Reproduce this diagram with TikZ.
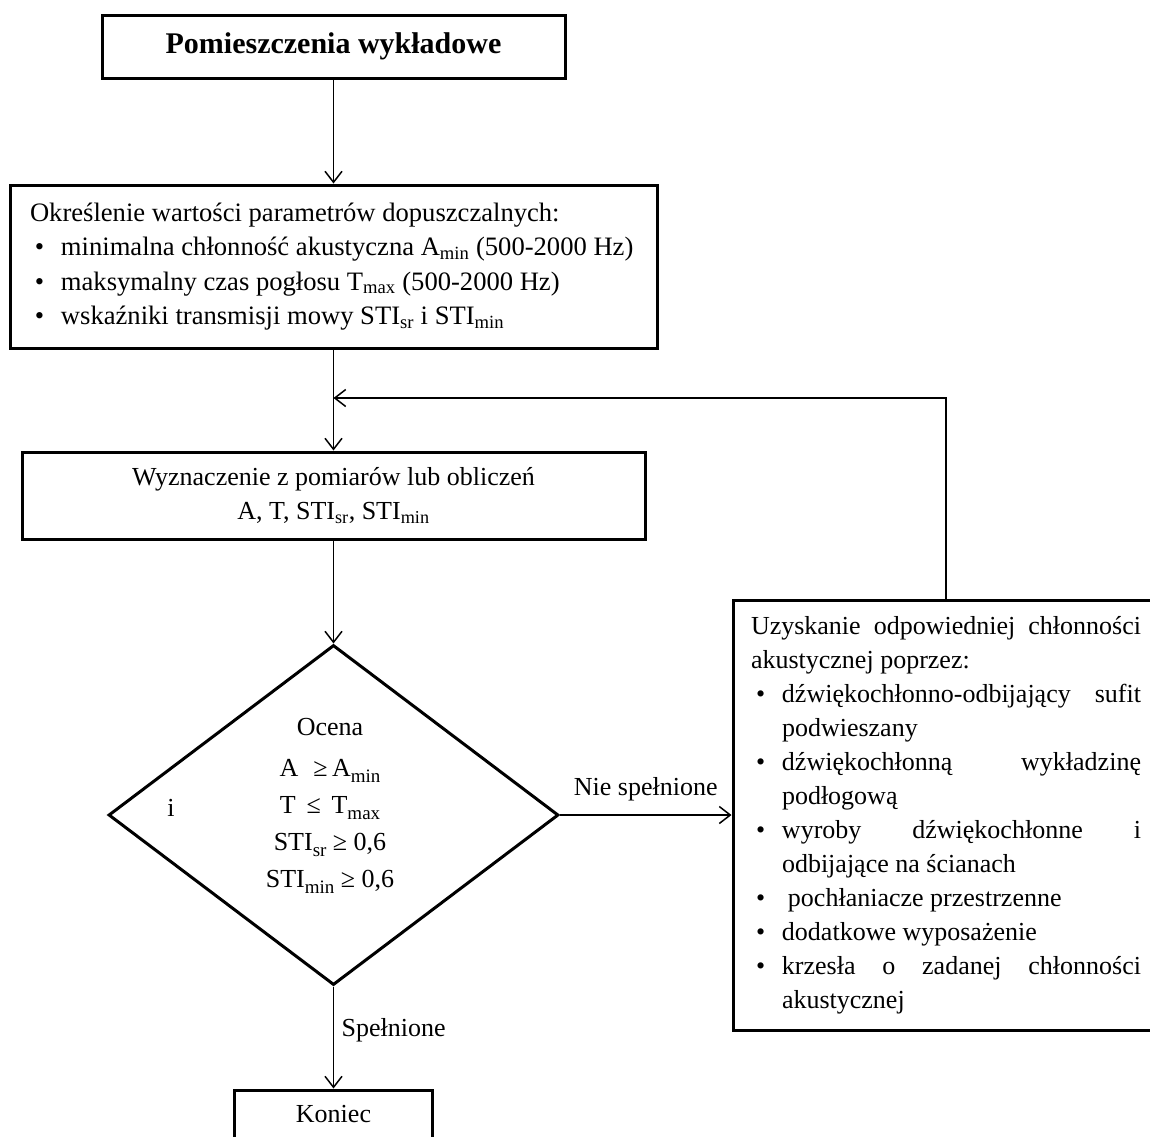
\documentclass[tikz,border=0pt]{standalone}
\usepackage{fontspec}
\setmainfont{Liberation Serif}
\usetikzlibrary{shapes.geometric,arrows.meta}

\newcommand{\pkt}[1]{\par\hangindent=31pt\hangafter=1\noindent\makebox[31pt][l]{\hspace{5pt}•}#1\par}
\newcommand{\dol}[1]{\raisebox{-0.5ex}{\fontsize{19}{19}\selectfont #1}}

\begin{document}
\hyphenpenalty=10000
\exhyphenpenalty=10000
\begin{tikzpicture}
  [x=1pt,y=-1pt,
   every node/.style={font=\fontsize{26}{34}\selectfont},
   blok/.style={draw,rectangle,line width=3pt,inner sep=0pt},
   romb/.style={draw,diamond,line width=3pt,inner sep=0pt,minimum width=450pt,minimum height=340pt},
   strz/.style={line width=1.5pt,-{Straight Barb[length=11pt,width=17pt]}}]
  \useasboundingbox (0,0) rectangle (1150,1136);
  \clip (0,0) rectangle (1150,1136);

  \node[blok,minimum width=463pt,minimum height=63pt,font=\fontsize{30}{34}\selectfont\bfseries] (tytul) at (333.5,46.5) {Pomieszczenia wykładowe};

  \node[blok,text width=607pt,inner xsep=20pt,minimum height=163pt,align=justify,font=\fontsize{26.6}{34.3}\selectfont] (param) at (333.5,266.5)
    {\noindent Określenie wartości parametrów dopuszczalnych:
     \pkt{minimalna chłonność akustyczna A\textsubscript{min} (500-2000 Hz)}
     \pkt{maksymalny czas pogłosu T\textsubscript{max} (500-2000 Hz)}
     \pkt{wskaźniki transmisji mowy STI\textsubscript{sr} i STI\textsubscript{min}}};

  \node[blok,minimum width=623pt,minimum height=87pt,align=center] (wyzn) at (333.5,495.5)
    {Wyznaczenie z pomiarów lub obliczeń\\ A, T, STI\textsubscript{sr}, STI\textsubscript{min}};

  \node[romb] (ocena) at (333.5,815) {};
  \node[align=center,font=\fontsize{26}{37}\selectfont] (ocenatxt) at (330,806)
    {Ocena\\[4pt] A\,\, ≥\,A\dol{min}\\ T \,≤\, T\dol{max}\\ STI\dol{sr} ≥ 0,6\\ STI\dol{min} ≥ 0,6};
  \node (ilab) at (171,808) {i};

  \node[blok,text width=390pt,inner xsep=18pt,minimum height=430pt,align=justify] (popr) at (946,815)
    {\noindent Uzyskanie odpowiedniej chłonności\linebreak akustycznej poprzez:
     \pkt{dźwiękochłonno-odbijający sufit\linebreak podwieszany}
     \pkt{dźwiękochłonną wykładzinę\linebreak podłogową}
     \pkt{wyroby dźwiękochłonne i\linebreak odbijające na ścianach}
     \pkt{\hspace{6pt}pochłaniacze przestrzenne}
     \pkt{dodatkowe wyposażenie}
     \pkt{krzesła o zadanej chłonności\linebreak akustycznej}};

  \node[blok,minimum width=198pt,minimum height=48pt] (koniec) at (333.5,1114) {Koniec};

  \coordinate (powrot) at (333.5,398);

  \draw[strz] (tytul) -- (param);
  \draw[strz] (param) -- (wyzn);
  \draw[strz] (popr.north) |- (powrot);
  \draw[strz] (wyzn) -- (ocena);
  \draw[strz] (ocena) -- node[above=10pt] {Nie spełnione} (popr);
  \draw[strz] (ocena) -- node[right=4pt,pos=0.43] {Spełnione} (koniec);
\end{tikzpicture}
\end{document}
